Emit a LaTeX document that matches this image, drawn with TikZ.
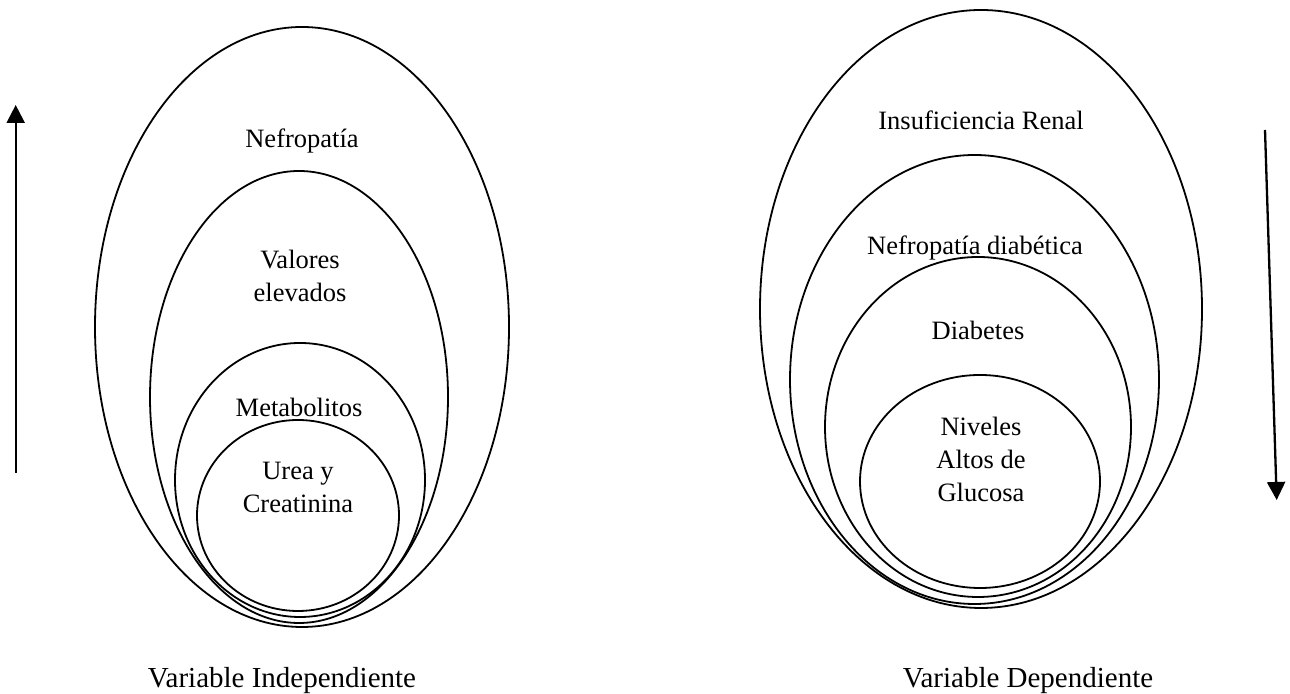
\documentclass[tikz,border=0pt]{standalone}
\usepackage{fontspec}
\setmainfont{Liberation Serif}
\usetikzlibrary{arrows.meta}

\begin{document}
\begin{tikzpicture}[x=0.5pt, y=0.5pt, line width=0.9pt, >={Triangle[length=9pt,width=9pt]},
    txt/.style={inner sep=0pt, align=center, font=\fontsize{13.25}{16.5}\selectfont},
    vartxt/.style={inner sep=0pt, anchor=base, font=\fontsize{14.5}{17}\selectfont}]
\useasboundingbox (0,0) rectangle (1290,694);
% variable independiente
\draw (302,367) ellipse (207 and 300);
\draw (299,297) ellipse (149 and 226);
\draw (300,214) ellipse (125 and 137);
\draw (298,178.5) ellipse (101 and 95.5);
\node[txt, anchor=base] (nefro) at (302,546) {Nefropatía};
\node[txt] (valores) at (300,418) {Valores\\elevados};
\node[txt, anchor=base] (metab) at (299,277) {Metabolitos};
\node[txt] (urea) at (298,206.5) {Urea y\\Creatinina};
\node[vartxt] (indep) at (282,6) {Variable Independiente};
\coordinate (subeA) at (15.7,221);
\coordinate (subeB) at (15.7,589);
\draw[->, line width=1.15pt] (subeA) -- (subeB);
% variable dependiente
\draw (981,385) ellipse (221 and 299);
\draw (974.5,314.5) ellipse (184.5 and 224.5);
\draw (978,267) ellipse (153 and 170);
\draw (980,212.5) ellipse (120 and 106.5);
\node[txt, anchor=base] (insuf) at (981,564) {Insuficiencia Renal};
\node[txt, anchor=base] (nefrodiab) at (975,439) {Nefropatía diabética};
\node[txt, anchor=base] (diab) at (978,354) {Diabetes};
\node[txt] (niveles) at (981,234.5) {Niveles\\Altos de\\Glucosa};
\node[vartxt] (dep) at (1028,6) {Variable Dependiente};
\coordinate (bajaA) at (1265,564);
\coordinate (bajaB) at (1276.7,194);
\draw[->, line width=1.15pt] (bajaA) -- (bajaB);
\end{tikzpicture}
\end{document}
